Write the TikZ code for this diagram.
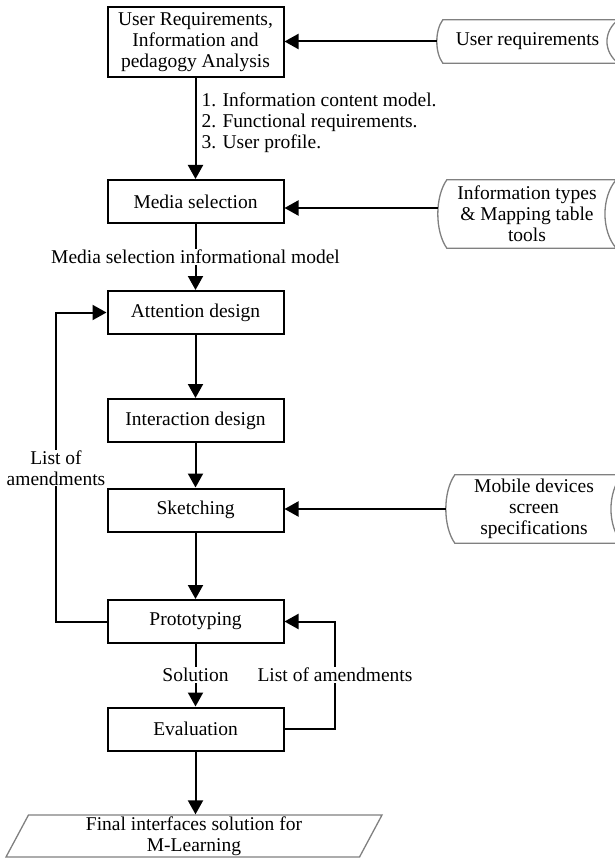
\documentclass[tikz,border=0pt]{standalone}
\usepackage{fontspec}
\setmainfont{Liberation Serif}
\usepackage{tikz}
\usetikzlibrary{arrows.meta}
\usetikzlibrary{shapes.geometric}
\usetikzlibrary{calc}

\begin{document}
\begin{tikzpicture}[x=1pt,y=-1pt,
  font=\fontsize{19.5}{21}\selectfont,
  stage/.style={draw,line width=2pt,minimum width=176pt,minimum height=43pt,align=center,inner sep=0pt},
  store/.style={align=center,inner sep=0pt},
  outline/.style={draw=black!50,line width=1.3pt},
  flow/.style={line width=2pt,-{Triangle[length=14pt,width=15pt]}},
  lbl/.style={fill=white,inner sep=1pt,align=center}]

\useasboundingbox (0,0) rectangle (614,858);

%analysis
\node[stage,minimum height=70pt] (analysis) at (195.5,42) {User Requirements,\\Information and\\pedagogy Analysis};
\node[store,minimum width=181pt,minimum height=43pt] (usrreq) at (527.5,41.5) {User requirements};
\draw[outline] ([xshift=6pt]usrreq.north west) -- (usrreq.north east) .. controls ([xshift=-15pt,yshift=10pt]usrreq.east) and ([xshift=-15pt,yshift=-10pt]usrreq.east) .. (usrreq.south east) -- ([xshift=6pt]usrreq.south west) .. controls ([xshift=-2pt,yshift=-11pt]usrreq.west) and ([xshift=-2pt,yshift=11pt]usrreq.west) .. ([xshift=6pt]usrreq.north west) -- cycle;
\draw[flow] (usrreq.west) -- (usrreq.west -| analysis.east);

%media selection
\node[stage] (media) at (195.5,201.5) {Media selection};
\node[store,minimum width=178pt,minimum height=68pt] (infotypes) at (527,214) {Information types\\\& Mapping table\\tools};
\draw[outline] ([xshift=9pt]infotypes.north west) -- (infotypes.north east) .. controls ([xshift=-15pt,yshift=17pt]infotypes.east) and ([xshift=-15pt,yshift=-17pt]infotypes.east) .. (infotypes.south east) -- ([xshift=9pt]infotypes.south west) .. controls ([xshift=-3pt,yshift=-17pt]infotypes.west) and ([xshift=-3pt,yshift=17pt]infotypes.west) .. ([xshift=9pt]infotypes.north west) -- cycle;
\draw[flow] ([yshift=6pt]infotypes.west) -- ([yshift=6pt]infotypes.west -| media.east);
\draw[flow] (analysis.south) -- node[pos=0.44,right,align=left,inner sep=1pt,xshift=4pt] (outputs) {1. Information content model.\\2. Functional requirements.\\3. User profile.} (media.north);

%attention, interaction
\node[stage] (attention) at (195.5,312.5) {Attention design};
\node[stage] (interaction) at (195.5,420.5) {Interaction design};
\draw[flow] (media.south) -- node[lbl] (msmodel) {Media selection informational model} (attention.north);
\draw[flow] (attention.south) -- (interaction.north);

%sketching
\node[stage] (sketch) at (195.5,510) {Sketching};
\node[store,minimum width=176pt,minimum height=68pt] (mobile) at (534,509) {Mobile devices\\screen\\specifications};
\draw[outline] ([xshift=9pt]mobile.north west) -- (mobile.north east) .. controls ([xshift=-15pt,yshift=17pt]mobile.east) and ([xshift=-15pt,yshift=-17pt]mobile.east) .. (mobile.south east) -- ([xshift=9pt]mobile.south west) .. controls ([xshift=-3pt,yshift=-17pt]mobile.west) and ([xshift=-3pt,yshift=17pt]mobile.west) .. ([xshift=9pt]mobile.north west) -- cycle;
\draw[flow] (mobile.west) -- (mobile.west -| sketch.east);
\draw[flow] (interaction.south) -- (sketch.north);

%prototyping, evaluation
\node[stage] (proto) at (195.5,621.5) {Prototyping};
\node[stage] (eval) at (195.5,729) {Evaluation};
\draw[flow] (sketch.south) -- (proto.north);
\draw[flow] (proto.south) -- node[lbl] (solution) {Solution} (eval.north);
\coordinate (lloop) at (56,468);
\coordinate (rloop) at (335,675);
\draw[flow] (proto.west) -| (lloop) node[lbl] (amendl) {List of\\amendments} |- (attention.west);
\draw[flow] (eval.east) -| (rloop) node[lbl] (amendr) {List of amendments} |- (proto.east);

%final
\node[draw=black!50,line width=1.3pt,trapezium,trapezium left angle=60,trapezium right angle=120,trapezium stretches body,minimum width=376pt,minimum height=42pt,inner sep=0pt,align=center] (final) at (194,836) {Final interfaces solution for\\M-Learning};
\draw[flow] (eval.south) -- (eval.south |- final.north);

\end{tikzpicture}
\end{document}
